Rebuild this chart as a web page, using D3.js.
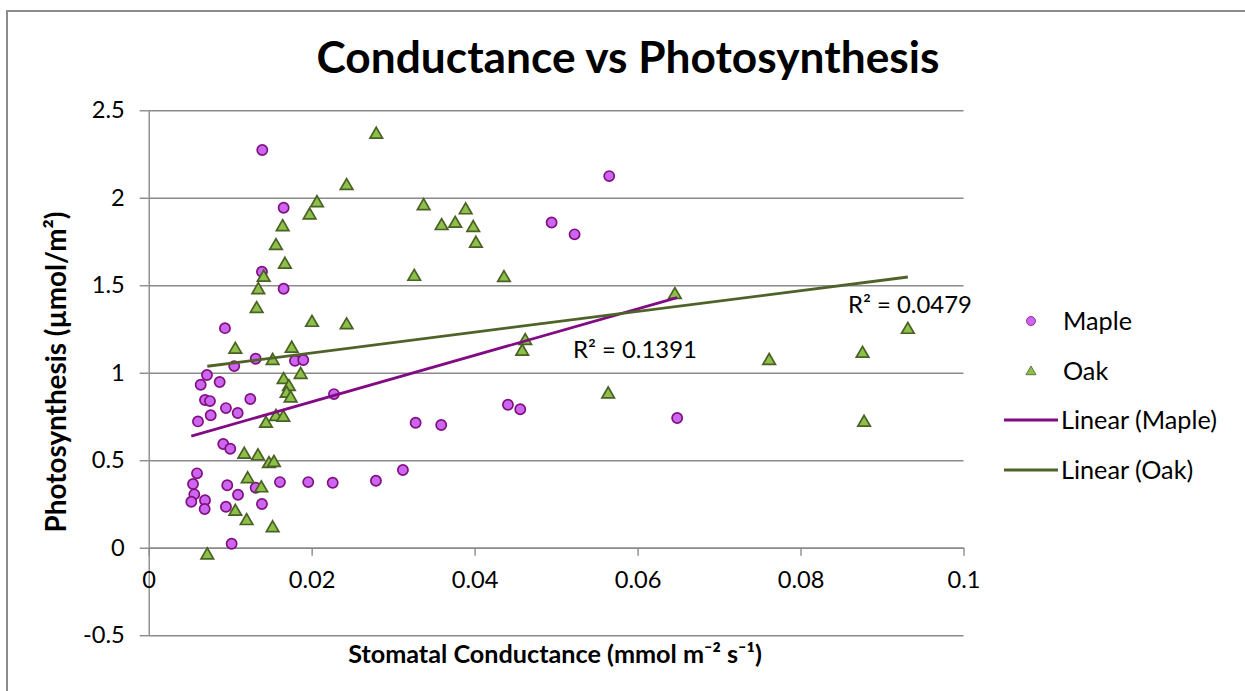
<!DOCTYPE html>
<html><head><meta charset="utf-8">
<script src="https://cdn.jsdelivr.net/npm/d3@7"></script>
<style>
body{margin:0;background:#fff;}
svg{display:block;}
text{font-family:Lato,"Open Sans","DejaVu Sans",sans-serif;fill:#000;}
</style>
</head><body>
<svg id="c" width="1245" height="691"></svg>
<script>
// ---------- data ----------
const chartTitle = "Conductance vs Photosynthesis";
const xTitle = "Stomatal Conductance (mmol m\u207B\u00B2 s\u207B\u00B9)";
const yTitle = "Photosynthesis (\u00B5mol/m\u00B2)";
const seriesNames = ["Maple", "Oak"];
const trendNames = ["Linear (Maple)", "Linear (Oak)"];
const r2Labels = ["R\u00B2 = 0.1391", "R\u00B2 = 0.0479"];
const xTicks = [0, 0.02, 0.04, 0.06, 0.08, 0.1];
const xTickLabels = ["0", "0.02", "0.04", "0.06", "0.08", "0.1"];
const yTicks = [-0.5, 0, 0.5, 1, 1.5, 2, 2.5];
const yTickLabels = ["-0.5", "0", "0.5", "1", "1.5", "2", "2.5"];

const mapleX = [0.01394,0.01656,0.01390,0.01656,0.00936,0.01313,0.01050,0.01795,0.01897,0.00715,
                0.00638,0.00871,0.00691,0.00752,0.01247,0.00948,0.01092,0.00761,0.00605,0.02274,
                0.00915,0.01001,0.00593,0.00544,0.00964,0.01313,0.01611,0.01958,0.02258,0.00560,
                0.01096,0.00523,0.00691,0.00687,0.00948,0.01390,0.01018,0.03276,0.03590,0.04409,
                0.04560,0.02789,0.03120,0.05652,0.04945,0.05227,0.06486];
const mapleY = [2.273,1.943,1.577,1.480,1.255,1.080,1.038,1.069,1.073,0.987,
                0.931,0.947,0.844,0.838,0.850,0.798,0.770,0.757,0.722,0.878,
                0.593,0.566,0.425,0.364,0.357,0.343,0.375,0.375,0.371,0.305,
                0.303,0.263,0.271,0.221,0.234,0.250,0.023,0.714,0.701,0.817,
                0.791,0.383,0.444,2.124,1.859,1.791,0.741];

const oakX = [0.02065,0.01975,0.01644,0.01562,0.01672,0.01411,0.01345,0.01325,0.02004,0.01063,
              0.01755,0.01521,0.01656,0.01865,0.01721,0.01693,0.01742,0.01562,0.01652,0.01439,
              0.01173,0.01341,0.01476,0.01537,0.01215,0.01382,0.01063,0.01202,0.01521,0.00719,
              0.02793,0.02429,0.03374,0.03890,0.03595,0.03762,0.03983,0.04016,0.03259,0.04360,
              0.02429,0.04621,0.04584,0.06458,0.09317,0.08761,0.07615,0.05639,0.08780];
const oakY = [1.975,1.905,1.838,1.730,1.623,1.549,1.478,1.370,1.291,1.137,
              1.143,1.073,0.964,0.993,0.924,0.886,0.859,0.753,0.749,0.714,
              0.537,0.528,0.484,0.490,0.397,0.345,0.211,0.158,0.117,-0.038,
              2.366,2.073,1.958,1.934,1.844,1.857,1.833,1.743,1.554,1.547,
              1.277,1.187,1.126,1.450,1.251,1.114,1.073,0.882,0.720];

// ---------- layout ----------
const svg = d3.select("#c");
const gridColor = "#8a8a8a";
const mapleFill = "#CC66F0", mapleStroke = "#80107F", mapleLine = "#820A84";
const oakFill = "#8CC048", oakStroke = "#4A6024", oakLine = "#4F6228";

const x = d3.scaleLinear().domain([0, 0.1]).range([148.7, 963.5]);
const y = d3.scaleLinear().domain([-0.5, 2.5]).range([635.2, 110.3]);

function fitWidth(sel, target) {
  const w = sel.node().getComputedTextLength();
  const fs = parseFloat(sel.attr("font-size"));
  const nfs = fs * target / w;
  sel.attr("font-size", nfs);
  return nfs;
}
function probeSize(str, weight, target) {
  const t = svg.append("text").attr("font-size", 100).attr("font-weight", weight).text(str);
  const w = t.node().getComputedTextLength();
  t.remove();
  return 100 * target / w;
}

// chart border (cut by the picture at right and bottom)
svg.append("rect").attr("x", 7).attr("y", 11).attr("width", 1400).attr("height", 900)
  .attr("fill", "none").attr("stroke", "#8c8c8c").attr("stroke-width", 2);

// gridlines
const grid = svg.append("g").attr("transform", `translate(${x(0)},0)`)
  .call(d3.axisLeft(y).tickValues(yTicks).tickSize(-(x(0.1) - x(0))).tickFormat(""));
grid.select(".domain").remove();
grid.selectAll(".tick line").attr("stroke", gridColor).attr("stroke-width", 1.4);

// y axis
const tickFs = probeSize("2.5", 400, 33);
const yAx = svg.append("g").attr("transform", `translate(${x(0)},0)`)
  .call(d3.axisLeft(y).tickValues(yTicks).tickSize(9).tickSizeOuter(0).tickPadding(15)
    .tickFormat((d, i) => yTickLabels[i]));
yAx.select(".domain").attr("stroke", gridColor).attr("stroke-width", 1.4);
yAx.selectAll(".tick line").attr("stroke", gridColor).attr("stroke-width", 1.4);
yAx.selectAll(".tick text").attr("font-size", tickFs).attr("fill", "#222")
  .attr("font-family", "Lato,'Open Sans',sans-serif");

// x axis (crosses at y = 0)
const xAx = svg.append("g").attr("transform", `translate(0,${y(0)})`)
  .call(d3.axisBottom(x).tickValues(xTicks).tickSize(8).tickSizeOuter(0)
    .tickFormat((d, i) => xTickLabels[i]));
xAx.select(".domain").attr("stroke", gridColor).attr("stroke-width", 1.4);
xAx.selectAll(".tick line").attr("stroke", gridColor).attr("stroke-width", 1.4);
xAx.selectAll(".tick text").attr("font-size", tickFs).attr("fill", "#222")
  .attr("font-family", "Lato,'Open Sans',sans-serif")
  .attr("y", 588 - y(0)).attr("dy", 0);

// title
const tt = svg.append("text").attr("x", 628).attr("y", 73).attr("text-anchor", "middle")
  .attr("font-weight", 700).attr("font-size", 36).text(chartTitle);
fitWidth(tt, 623);

// axis titles
const xt = svg.append("text").attr("x", 555).attr("y", 663).attr("text-anchor", "middle")
  .attr("font-weight", 700).attr("font-size", 18).text(xTitle);
fitWidth(xt, 414);
const yt = svg.append("text").attr("transform", "translate(66,372) rotate(-90)")
  .attr("text-anchor", "middle").attr("font-weight", 700).attr("font-size", 24).text(yTitle);
fitWidth(yt, 321);

// trend lines (least squares)
function linreg(xs, ys) {
  const n = xs.length, mx = d3.mean(xs), my = d3.mean(ys);
  let sxy = 0, sxx = 0;
  for (let i = 0; i < n; i++) { sxy += (xs[i] - mx) * (ys[i] - my); sxx += (xs[i] - mx) ** 2; }
  const b = sxy / sxx, a = my - b * mx;
  const [x0, x1] = d3.extent(xs);
  return [[x0, a + b * x0], [x1, a + b * x1]];
}
const line = d3.line().x(d => x(d[0])).y(d => y(d[1]));

// markers
const maple = mapleX.map((v, i) => [v, mapleY[i]]);
const oak = oakX.map((v, i) => [v, oakY[i]]);
const tri = d3.symbol(d3.symbolTriangle, 68);

svg.append("g").selectAll("circle").data(maple).join("circle")
  .attr("cx", d => x(d[0])).attr("cy", d => y(d[1])).attr("r", 5.1)
  .attr("fill", mapleFill).attr("stroke", mapleStroke).attr("stroke-width", 1.7);
svg.append("g").selectAll("path").data(oak).join("path")
  .attr("d", tri).attr("transform", d => `translate(${x(d[0])},${y(d[1]) + 0.8})`)
  .attr("fill", oakFill).attr("stroke", oakStroke).attr("stroke-width", 1.7);

svg.append("path").datum(linreg(mapleX, mapleY)).attr("d", line)
  .attr("stroke", mapleLine).attr("stroke-width", 2.8).attr("fill", "none");
svg.append("path").datum(linreg(oakX, oakY)).attr("d", line)
  .attr("stroke", oakLine).attr("stroke-width", 2.8).attr("fill", "none");

// R² labels
const r2Fs = probeSize(r2Labels[0], 400, 124);
svg.append("text").attr("x", 573).attr("y", 358).attr("font-size", r2Fs).attr("fill", "#222")
  .text(r2Labels[0]);
svg.append("text").attr("x", 848).attr("y", 313).attr("font-size", r2Fs).attr("fill", "#222")
  .text(r2Labels[1]);

// legend
const legFs = probeSize(trendNames[0], 400, 156);
const legY = [321, 371, 420, 470];
const lg = svg.append("g");
lg.append("circle").attr("cx", 1031).attr("cy", legY[0]).attr("r", 4.5)
  .attr("fill", mapleFill).attr("stroke", mapleStroke).attr("stroke-width", 0.8);
lg.append("path").attr("d", d3.symbol(d3.symbolTriangle, 44))
  .attr("transform", `translate(1031,${legY[1] + 0.8})`)
  .attr("fill", oakFill).attr("stroke", oakStroke).attr("stroke-width", 0.8);
lg.append("line").attr("x1", 1004).attr("x2", 1058).attr("y1", legY[2]).attr("y2", legY[2])
  .attr("stroke", mapleLine).attr("stroke-width", 2.8);
lg.append("line").attr("x1", 1004).attr("x2", 1058).attr("y1", legY[3]).attr("y2", legY[3])
  .attr("stroke", oakLine).attr("stroke-width", 2.8);
const legTexts = [seriesNames[0], seriesNames[1], trendNames[0], trendNames[1]];
const legX = [1063, 1063, 1061, 1061];
legTexts.forEach((t, i) => {
  lg.append("text").attr("x", legX[i]).attr("y", legY[i]).attr("dy", "0.35em")
    .attr("font-size", legFs).attr("fill", "#222").text(t);
});
</script>
</body></html>
